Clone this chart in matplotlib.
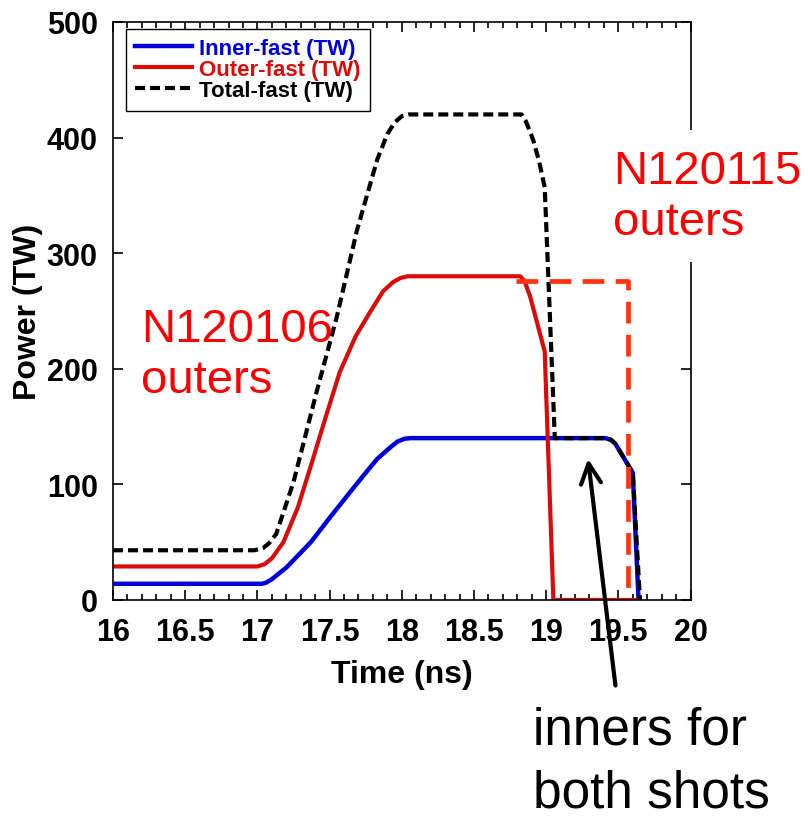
import matplotlib
matplotlib.use('Agg')
import matplotlib.pyplot as plt
from matplotlib.ticker import MultipleLocator

# inner cone (TW) vs time (ns)
t_inner = [16.0, 17.03, 17.06, 17.1, 17.2, 17.37, 17.5, 17.64, 17.75, 17.83, 17.92, 17.97, 18.02, 18.06,
           19.41, 19.45, 19.48, 19.6, 19.64]
p_inner = [14, 14, 15, 18, 28, 50, 71, 93, 110, 122, 132, 137, 139.5, 140,
           140, 138.5, 135, 110, 0]

# outer cone, N120106
t_outer = [16.0, 17.0, 17.05, 17.1, 17.18, 17.28, 17.37, 17.47, 17.57, 17.68, 17.78, 17.87, 17.94, 17.99, 18.04,
           18.82, 18.85, 18.89, 18.99, 19.05, 19.64]
p_outer = [29, 29, 31, 36, 50, 80, 116, 157, 197, 228, 249, 267, 275, 278.5, 280,
           280, 276, 262, 215, 0, 0]

# total
t_total = [16.0, 16.98, 17.04, 17.08, 17.13, 17.25, 17.41, 17.55, 17.69, 17.83, 17.9, 17.95, 18.0, 18.05,
           18.83, 18.86, 18.91, 18.95, 18.99, 19.06, 19.41, 19.45, 19.48, 19.6, 19.65]
p_total = [43, 43, 45, 49, 57, 102, 180, 245, 320, 381, 403, 413, 418.5, 420,
           420, 414, 398, 380, 357, 140, 140, 138.5, 135, 110, 0]

# outer cone, N120115
t_outer2 = [18.79, 19.57, 19.57]
p_outer2 = [276, 276, 0]

plt.rcParams.update({
    'font.family': ['Liberation Sans', 'DejaVu Sans'],
    'font.weight': 'bold',
    'axes.linewidth': 1.2,
})

fig = plt.figure(figsize=(8.08, 8.2), dpi=100)
ax = fig.add_axes([0.1399, 0.2671, 0.7147, 0.7049])

ax.plot(t_inner, p_inner, color='#0000dd', lw=3.2, label='Inner-fast (TW)', zorder=2)
ax.plot(t_outer, p_outer, color='#dd0a0a', lw=3.0, label='Outer-fast (TW)', zorder=2.1)
ax.plot(t_total, p_total, color='black', lw=3.0, dashes=(2.4, 1.2),
        label='Total-fast (TW)', zorder=2.2)
ax.plot(t_outer2, p_outer2, color='#ff3311', lw=3.4, dashes=(4.6, 2.4), zorder=2.3)

ax.set_xlim(16, 20)
ax.set_ylim(0, 500)
ax.xaxis.set_minor_locator(MultipleLocator(0.1))
ax.yaxis.set_major_locator(MultipleLocator(100))
ax.set_xticks([16, 16.5, 17, 17.5, 18, 18.5, 19, 19.5, 20])
ax.set_xticklabels(['16', '16.5', '17', '17.5', '18', '18.5', '19', '19.5', '20'])
ax.tick_params(which='both', direction='in', top=True, right=True, width=1.2)
ax.tick_params(which='major', length=7, labelsize=22)
ax.tick_params(axis='x', which='major', pad=12)
ax.tick_params(axis='y', which='major', pad=11)
ax.tick_params(which='minor', length=4)
for lab in ax.get_xticklabels() + ax.get_yticklabels():
    lab.set_fontweight('bold')

ax.set_xlabel('Time (ns)', fontsize=23, fontweight='bold', labelpad=9)
ax.set_ylabel('Power (TW)', fontsize=23, fontweight='bold', labelpad=3)

leg = ax.legend(loc='upper left', bbox_to_anchor=(0.0225, 0.988), borderaxespad=0,
                prop={'size': 16, 'weight': 'bold'}, labelcolor='linecolor',
                handlelength=2.55, handletextpad=0.3, labelspacing=0.0,
                borderpad=0.42, fancybox=False, framealpha=1, edgecolor='black')
leg.get_frame().set_linewidth(1.0)

# va='baseline' pins the last line's baseline
ax.text(16.195, 180, 'N120106\nouters', color='#ff0000', fontsize=34,
        fontweight='normal', linespacing=1.2, va='baseline', ha='left')
ax.text(19.465, 317, 'N120115\nouters', color='#ff0000', fontsize=34,
        fontweight='normal', linespacing=1.2, va='baseline', ha='left',
        clip_on=False, zorder=5,
        bbox=dict(boxstyle='square,pad=0.4', fc='white', ec='none'))

ax.annotate('', xy=(19.29, 122), xytext=(19.48, -74), xycoords='data',
            annotation_clip=False,
            arrowprops=dict(arrowstyle='->,head_length=0.4,head_width=0.2',
                            color='black', lw=3, mutation_scale=36,
                            shrinkA=0, shrinkB=0))
fig.text(533 / 808, 1 - 808 / 820, 'inners for\nboth shots', fontsize=37,
         fontweight='normal', linespacing=1.37, va='baseline', ha='left')

plt.savefig('out.png', dpi=100)
